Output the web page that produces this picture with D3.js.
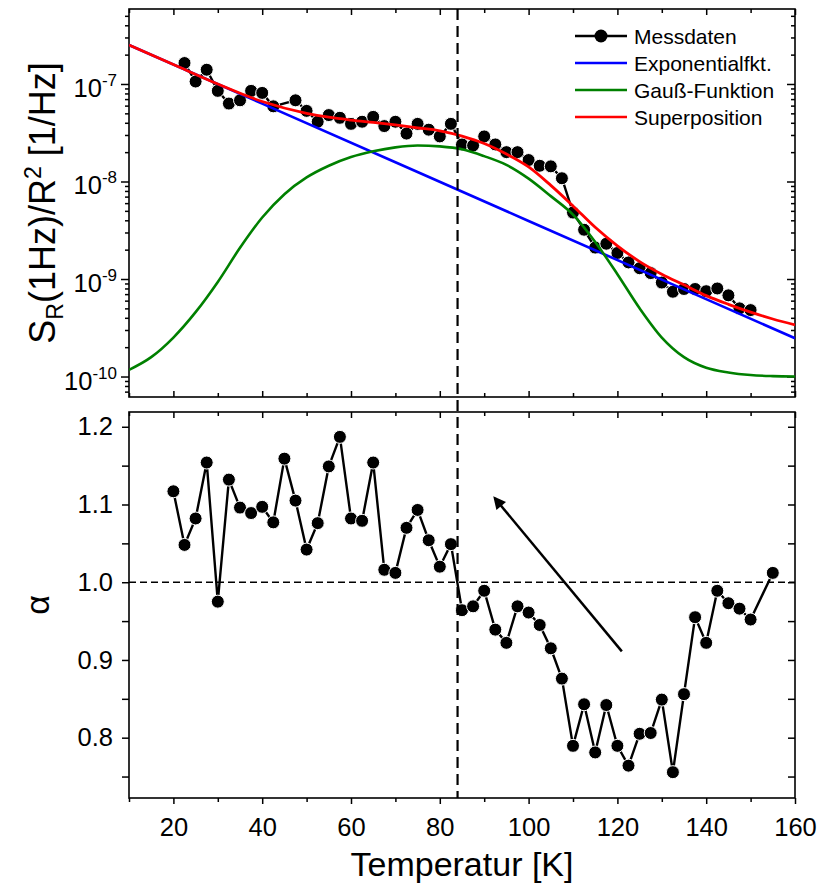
<!DOCTYPE html>
<html><head><meta charset="utf-8">
<script src="https://cdn.jsdelivr.net/npm/d3@7/dist/d3.min.js"></script>
<style>body{margin:0;background:#fff} svg{display:block} text{font-family:"Liberation Sans",Arial,sans-serif;fill:#000}</style>
</head><body><svg id="c" width="819" height="888"></svg>
<script>
// ---------- data ----------
const tempTop = [22.5,25,27.5,30,32.5,35,37.5,40,42.5,47.5,50,52.5,55,57.5,60,62.5,65,67.5,70,72.5,75,77.5,80,82.5,85,87.5,90,92.5,95,97.5,100,102.5,105,107.5,110,112.5,115,117.5,120,122.5,125,127.5,130,132.5,135,137.5,140,142.5,145,147.5,150];
const noiseTop = [1.64e-7,1.06e-7,1.40e-7,8.5e-8,6.3e-8,6.8e-8,8.5e-8,8.1e-8,5.9e-8,6.8e-8,5.3e-8,4.1e-8,4.8e-8,4.5e-8,3.9e-8,4.1e-8,4.6e-8,3.7e-8,4.1e-8,3.1e-8,3.9e-8,3.4e-8,2.9e-8,3.9e-8,2.4e-8,2.34e-8,2.9e-8,2.4e-8,2.0e-8,2.0e-8,1.66e-8,1.45e-8,1.43e-8,1.08e-8,4.8e-9,3.2e-9,2.1e-9,2.3e-9,1.85e-9,1.48e-9,1.29e-9,1.15e-9,9.2e-10,7.4e-10,7.9e-10,7.9e-10,7.5e-10,8.0e-10,6.8e-10,5.0e-10,4.8e-10];

const expTemp = [10,40,70,100,130,160];
const expVals = [2.51e-7,6.29e-8,1.574e-8,3.94e-9,9.86e-10,2.47e-10];

const fitTemp = [10,15,20,25,30,35,40,45,50,55,60,65,70,75,80,85,90,95,100,105,110,115,120,125,130,135,140,145,150,155,160];
const gaussVals = [1.17e-10,1.58e-10,2.51e-10,4.57e-10,9.33e-10,2.09e-9,4.27e-9,7.41e-9,1.10e-8,1.45e-8,1.78e-8,2.04e-8,2.24e-8,2.34e-8,2.29e-8,2.14e-8,1.82e-8,1.48e-8,1.07e-8,7.08e-9,4.57e-9,2.40e-9,1.12e-9,5.01e-10,2.51e-10,1.58e-10,1.23e-10,1.10e-10,1.035e-10,1.01e-10,1.0e-10];

const supTemp = [10,20,30,40,50,55,60,65,70,75,80,85,90,95,100,105,110,115,120,125,130,135,140,145,150,155,160];
const supVals = [2.51e-7,1.585e-7,1.0e-7,6.61e-8,5.01e-8,4.57e-8,4.27e-8,4.03e-8,3.80e-8,3.55e-8,3.31e-8,2.92e-8,2.45e-8,1.91e-8,1.41e-8,9.12e-9,5.62e-9,3.39e-9,2.19e-9,1.51e-9,1.12e-9,8.71e-10,6.76e-10,5.50e-10,4.57e-10,3.89e-10,3.39e-10];

const tempBot = [20,22.5,25,27.5,30,32.5,35,37.5,40,42.5,45,47.5,50,52.5,55,57.5,60,62.5,65,67.5,70,72.5,75,77.5,80,82.5,85,87.5,90,92.5,95,97.5,100,102.5,105,107.5,110,112.5,115,117.5,120,122.5,125,127.5,130,132.5,135,137.5,140,142.5,145,147.5,150,155];
const alphaBot = [1.117,1.048,1.082,1.154,0.975,1.132,1.096,1.089,1.097,1.077,1.159,1.105,1.042,1.076,1.149,1.187,1.082,1.079,1.154,1.016,1.012,1.070,1.093,1.054,1.020,1.049,0.964,0.969,0.989,0.939,0.922,0.969,0.961,0.945,0.915,0.876,0.7895,0.843,0.781,0.842,0.7895,0.764,0.805,0.806,0.849,0.7556,0.856,0.955,0.922,0.989,0.973,0.966,0.952,1.012];

const markerTemp = 84;
const arrowFrom = [121, 0.911];
const arrowTo = [92.4, 1.108];

const xTicksMajor = [20,40,60,80,100,120,140,160];
const xTicksMinor = [10,30,50,70,90,110,130,150];
const logMajor = [1e-10,1e-9,1e-8,1e-7];
const logExp = [-10,-9,-8,-7];
const alphaTicks = [0.8,0.9,1.0,1.1,1.2];
const alphaMinor = [0.75,0.85,0.95,1.05,1.15];

const legendLabels = ["Messdaten","Exponentialfkt.","Gauß-Funktion","Superposition"];
const legendColors = ["#000","#0000ff","#008000","#ff0000"];

// ---------- layout ----------
const L=129, R=795, T1=9, B1=397, T2=412, B2=798;
const TICKFONT=25.5, TITLEFONT=34, MR=6.5;
const svg = d3.select("#c");
const x = d3.scaleLinear([10,160],[L,R]);
const yTop = d3.scaleLog([Math.pow(10,-10.21),Math.pow(10,-6.231)],[B1,T1]);
const yBot = d3.scaleLinear([0.7224,1.219],[B2,T2]);

const defs = svg.append("defs");
defs.append("clipPath").attr("id","clipTop").append("rect").attr("x",L).attr("y",T1).attr("width",R-L).attr("height",B1-T1);
defs.append("clipPath").attr("id","clipBot").append("rect").attr("x",L).attr("y",T2).attr("width",R-L).attr("height",B2-T2);
defs.append("marker").attr("id","ah").attr("viewBox","0 0 10 10").attr("refX",8).attr("refY",5)
  .attr("markerWidth",6).attr("markerHeight",5).attr("markerUnits","strokeWidth").attr("orient","auto")
  .append("path").attr("d","M0,0 L10,5 L0,10 Z").attr("fill","#000");

function styleAxis(g){ g.select(".domain").remove(); g.selectAll("line").attr("stroke","#000").attr("stroke-width",1.5); g.selectAll("text").attr("font-size",TICKFONT).attr("font-family","Liberation Sans, Arial, sans-serif"); }
function axisAt(axisFn, scale, vals, size, tx, ty, fmt, pad){
  const a = axisFn(scale).tickValues(vals).tickSize(size).tickSizeOuter(0).tickFormat(fmt || "");
  if(pad!==undefined) a.tickPadding(pad);
  svg.append("g").attr("transform",`translate(${tx},${ty})`).call(a).call(styleAxis);
}

// top panel ticks
const logMinor = [];
for (let e=-11;e<=-7;e++) for (let m=2;m<=9;m++){ const v=m*Math.pow(10,e); if(v>yTop.domain()[0]&&v<yTop.domain()[1]) logMinor.push(v); }
axisAt(d3.axisLeft, yTop, logMajor, 8, L, 0);
axisAt(d3.axisLeft, yTop, logMinor, 4, L, 0);
axisAt(d3.axisRight, yTop, logMajor, -8, R, 0);
axisAt(d3.axisRight, yTop, logMinor, -4, R, 0);
axisAt(d3.axisBottom, x, xTicksMajor, 6, 0, T1);
axisAt(d3.axisBottom, x, xTicksMinor, 4, 0, T1);
axisAt(d3.axisTop, x, xTicksMajor, 6, 0, B1);
axisAt(d3.axisTop, x, xTicksMinor, 4, 0, B1);

// log labels
logMajor.forEach((v,i)=>{
  const t = svg.append("text").attr("x",117).attr("y",yTop(v)+13).attr("text-anchor","end").attr("font-size",TICKFONT);
  t.append("tspan").text("10");
  t.append("tspan").attr("font-size",17).attr("dy",-11).text(String(logExp[i]));
});

// bottom panel ticks
axisAt(d3.axisLeft, yBot, alphaTicks, 7, L, 0, d3.format(".1f"), 9);
axisAt(d3.axisLeft, yBot, alphaMinor, 7, L, 0);
axisAt(d3.axisRight, yBot, alphaTicks.concat(alphaMinor), -7, R, 0);
axisAt(d3.axisBottom, x, xTicksMajor, 6, 0, T2);
axisAt(d3.axisBottom, x, xTicksMinor, 4, 0, T2);
axisAt(d3.axisBottom, x, xTicksMajor, 6, 0, B2, d3.format("d"), 14);
axisAt(d3.axisBottom, x, xTicksMinor, 4, 0, B2);

// frames
[[T1,B1],[T2,B2]].forEach(([a,b])=>svg.append("rect").attr("x",L).attr("y",a).attr("width",R-L).attr("height",b-a).attr("fill","none").attr("stroke","#000").attr("stroke-width",1.6));

// ---------- top panel ----------
const gTop = svg.append("g").attr("clip-path","url(#clipTop)");
const lineTop = d3.line().x((d,i)=>x(tempTop[i])).y((d)=>yTop(d));
gTop.append("path").attr("d",lineTop(noiseTop)).attr("fill","none").attr("stroke","#000").attr("stroke-width",2.4);
gTop.selectAll("circle").data(noiseTop).join("circle").attr("cx",(d,i)=>x(tempTop[i])).attr("cy",d=>yTop(d)).attr("r",MR).attr("fill","#000").attr("stroke","#fff").attr("stroke-width",1);
const mkLine = (xs,curve)=>d3.line().x((d,i)=>x(xs[i])).y(d=>yTop(d)).curve(curve);
gTop.append("path").attr("d",mkLine(expTemp,d3.curveLinear)(expVals)).attr("fill","none").attr("stroke","#0000ff").attr("stroke-width",2.6);
gTop.append("path").attr("d",mkLine(fitTemp,d3.curveMonotoneX)(gaussVals)).attr("fill","none").attr("stroke","#008000").attr("stroke-width",2.6);
gTop.append("path").attr("d",mkLine(supTemp,d3.curveMonotoneX)(supVals)).attr("fill","none").attr("stroke","#ff0000").attr("stroke-width",2.8);

// legend
const legY = [36,63,90,117];
legendLabels.forEach((lab,i)=>{
  svg.append("line").attr("x1",575).attr("x2",627).attr("y1",legY[i]).attr("y2",legY[i]).attr("stroke",legendColors[i]).attr("stroke-width",i===0?2.4:2.6);
  if(i===0) svg.append("circle").attr("cx",601).attr("cy",legY[i]).attr("r",MR).attr("fill","#000");
  svg.append("text").attr("x",634).attr("y",legY[i]+7.5).attr("font-size",21).text(lab);
});

// ---------- bottom panel ----------
const gBot = svg.append("g").attr("clip-path","url(#clipBot)");
gBot.append("line").attr("x1",L).attr("x2",R).attr("y1",yBot(1)).attr("y2",yBot(1)).attr("stroke","#000").attr("stroke-width",1.6).attr("stroke-dasharray","7,4");
const lineBot = d3.line().x((d,i)=>x(tempBot[i])).y(d=>yBot(d));
gBot.append("path").attr("d",lineBot(alphaBot)).attr("fill","none").attr("stroke","#000").attr("stroke-width",2.4);
gBot.selectAll("circle").data(alphaBot).join("circle").attr("cx",(d,i)=>x(tempBot[i])).attr("cy",d=>yBot(d)).attr("r",MR).attr("fill","#000").attr("stroke","#fff").attr("stroke-width",1);
svg.append("line").attr("x1",x(arrowFrom[0])).attr("y1",yBot(arrowFrom[1])).attr("x2",x(arrowTo[0])).attr("y2",yBot(arrowTo[1]))
  .attr("stroke","#000").attr("stroke-width",2.5).attr("marker-end","url(#ah)");

// vertical dashed marker
svg.append("line").attr("x1",x(markerTemp)).attr("x2",x(markerTemp)).attr("y1",T1).attr("y2",B2).attr("stroke","#000").attr("stroke-width",2.2).attr("stroke-dasharray","11,6");

// ---------- titles ----------
const yt = svg.append("text").attr("transform",`translate(55,${(T1+B1)/2}) rotate(-90)`).attr("text-anchor","middle").attr("font-size",36);
yt.append("tspan").text("S");
yt.append("tspan").attr("font-size",23).attr("dy",8).text("R");
yt.append("tspan").attr("dy",-8).text("(1Hz)/R");
yt.append("tspan").attr("font-size",23).attr("dy",-14).text("2");
yt.append("tspan").attr("dy",14).text(" [1/Hz]");
svg.append("text").attr("transform",`translate(49,${(T2+B2)/2}) rotate(-90)`).attr("text-anchor","middle").attr("font-size",TITLEFONT).text("α");
svg.append("text").attr("x",(L+R)/2).attr("y",876).attr("text-anchor","middle").attr("font-size",TITLEFONT).text("Temperatur [K]");
</script></body></html>
